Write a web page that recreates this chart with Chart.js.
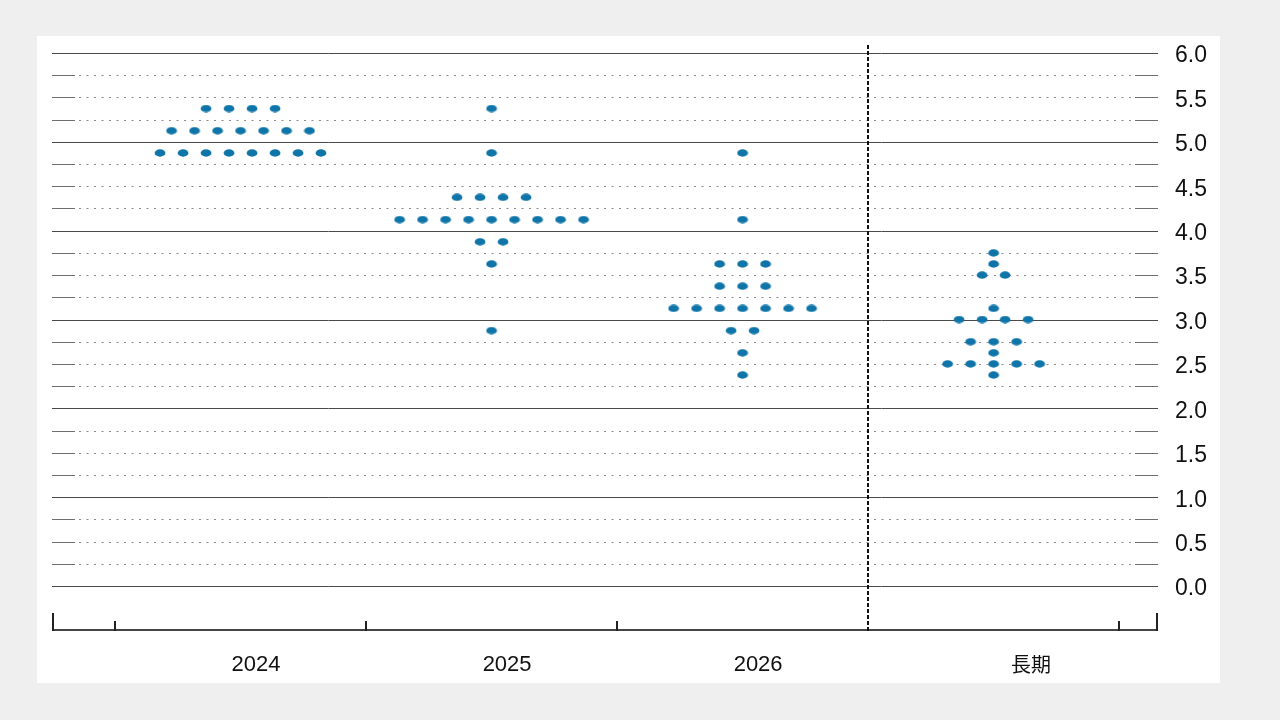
<!DOCTYPE html>
<html lang="ja">
<head>
    <meta charset="UTF-8">
    <title>Dot plot</title>
    <style>
        * { box-sizing: border-box; margin: 0; padding: 0; }
        body {
            background-color: #efefef;
            width: 1280px;
            height: 720px;
            position: relative;
            overflow: hidden;
        }
        .card {
            position: absolute;
            left: 37px;
            top: 36px;
            width: 1183px;
            height: 647px;
            background-color: #fff;
        }
        #dotChart { display: block; }
    </style>
    <script src="https://cdn.jsdelivr.net/npm/chart.js"></script>
</head>
<body>
    <div class="card">
        <canvas id="dotChart" width="1183" height="647"></canvas>
    </div>

    <script>
        // categories on the x axis
        const categories = ['2024', '2025', '2026', '長期'];

        // rate levels and number of dots at each level, per category
        const levels2024 = [5.375, 5.125, 4.875];
        const counts2024 = [4, 7, 8];
        const levels2025 = [5.375, 4.875, 4.375, 4.125, 3.875, 3.625, 2.875];
        const counts2025 = [1, 1, 4, 9, 2, 1, 1];
        const levels2026 = [4.875, 4.125, 3.625, 3.375, 3.125, 2.875, 2.625, 2.375];
        const counts2026 = [1, 1, 3, 3, 7, 2, 1, 1];
        const levelsLong = [3.75, 3.625, 3.5, 3.125, 3.0, 2.75, 2.625, 2.5, 2.375];
        const countsLong = [1, 1, 2, 1, 4, 3, 1, 5, 1];

        // y tick labels (every 0.5), grid every 0.25
        const yLabels = [0, 0.5, 1, 1.5, 2, 2.5, 3, 3.5, 4, 4.5, 5, 5.5, 6];

        const dotColor = '#0f74a8';
        const dotGap = 0.0916;           // horizontal spacing between dots, in category units
        const labelShift = [0.062, 0.062, 0.062, 0.149];

        const allLevels = [levels2024, levels2025, levels2026, levelsLong];
        const allCounts = [counts2024, counts2025, counts2026, countsLong];

        const points = [];
        allLevels.forEach((lv, i) => {
            lv.forEach((v, j) => {
                const n = allCounts[i][j];
                for (let k = 0; k < n; k++) {
                    points.push({ x: i + (k - (n - 1) / 2) * dotGap, y: v });
                }
            });
        });

        // ellipse marker
        const dotImg = document.createElement('canvas');
        dotImg.width = 12;
        dotImg.height = 8;
        const dctx = dotImg.getContext('2d');
        dctx.fillStyle = dotColor;
        dctx.beginPath();
        dctx.ellipse(6, 4, 5.4, 3.7, 0, 0, Math.PI * 2);
        dctx.fill();

        // grid, axis line, ticks and divider
        const framePlugin = {
            id: 'frame',
            beforeDatasetsDraw(chart) {
                const { ctx, chartArea: a, scales: { x, y } } = chart;
                ctx.save();
                for (let q = 0; q <= 24; q++) {
                    const v = q * 0.25;
                    const py = Math.round(y.getPixelForValue(v)) + 0.5;
                    if (q % 4 === 0) {
                        ctx.strokeStyle = '#4a4a4a';
                        ctx.lineWidth = 1;
                        ctx.setLineDash([]);
                        ctx.beginPath();
                        ctx.moveTo(a.left, py);
                        ctx.lineTo(a.right, py);
                        ctx.stroke();
                    } else {
                        ctx.strokeStyle = '#6e6e6e';
                        ctx.lineWidth = 1;
                        ctx.setLineDash([]);
                        ctx.beginPath();
                        ctx.moveTo(a.left, py);
                        ctx.lineTo(a.left + 23, py);
                        ctx.moveTo(a.right - 23, py);
                        ctx.lineTo(a.right, py);
                        ctx.stroke();
                        ctx.strokeStyle = '#8a8a8a';
                        ctx.setLineDash([2, 5.5]);
                        ctx.beginPath();
                        ctx.moveTo(a.left + 27, py);
                        ctx.lineTo(a.right - 25, py);
                        ctx.stroke();
                    }
                }
                ctx.setLineDash([]);

                // x axis line
                const by = a.bottom;
                ctx.strokeStyle = '#444';
                ctx.lineWidth = 2;
                ctx.beginPath();
                ctx.moveTo(a.left, by);
                ctx.lineTo(a.right, by);
                ctx.stroke();

                // end ticks and separators
                ctx.strokeStyle = '#222';
                ctx.beginPath();
                ctx.moveTo(a.left + 1, by + 1);
                ctx.lineTo(a.left + 1, by - 17);
                ctx.moveTo(a.right - 1, by + 1);
                ctx.lineTo(a.right - 1, by - 17);
                [-0.5, 0.5, 1.5, 3.5].forEach(v => {
                    const px = Math.round(x.getPixelForValue(v));
                    ctx.moveTo(px, by + 1);
                    ctx.lineTo(px, by - 9);
                });
                ctx.stroke();

                // dotted divider before long run
                const dx = Math.round(x.getPixelForValue(2.5));
                ctx.strokeStyle = '#111';
                ctx.lineWidth = 2;
                ctx.setLineDash([4, 2]);
                ctx.beginPath();
                ctx.moveTo(dx, a.top);
                ctx.lineTo(dx, by + 1);
                ctx.stroke();
                ctx.restore();
            }
        };

        new Chart(document.getElementById('dotChart'), {
            type: 'scatter',
            data: {
                datasets: [{
                    data: points,
                    pointStyle: dotImg,
                    pointRadius: 6,
                    pointHoverRadius: 6,
                    backgroundColor: dotColor,
                    borderColor: dotColor
                }]
            },
            options: {
                responsive: false,
                devicePixelRatio: 1,
                animation: false,
                layout: { padding: { left: 15, top: 9, right: 0, bottom: 0 } },
                plugins: { legend: { display: false }, tooltip: { enabled: false } },
                scales: {
                    x: {
                        type: 'linear',
                        min: -0.751,
                        max: 3.655,
                        grid: { display: false },
                        border: { display: false },
                        afterFit(scale) {
                            scale.height = 53;
                            scale.paddingLeft = 0;
                            scale.paddingRight = 0;
                        },
                        afterBuildTicks(scale) {
                            scale.ticks = categories.map((c, i) => ({ value: i + labelShift[i] }));
                        },
                        ticks: {
                            padding: 14,
                            color: '#111',
                            maxRotation: 0,
                            autoSkip: false,
                            font: ctx => ctx.index === 3
                                ? { family: "'Noto Sans CJK JP', sans-serif", size: 20 }
                                : { family: "'Liberation Sans', Arial, sans-serif", size: 22 },
                            callback: (v, i) => categories[i]
                        }
                    },
                    y: {
                        position: 'right',
                        min: -0.495,
                        max: 6.09,
                        grid: { display: false },
                        border: { display: false },
                        afterFit(scale) {
                            scale.width = 62;
                            scale.paddingTop = 0;
                            scale.paddingBottom = 0;
                        },
                        afterBuildTicks(scale) {
                            scale.ticks = yLabels.map(v => ({ value: v }));
                        },
                        ticks: {
                            padding: 9,
                            labelOffset: 3,
                            color: '#111',
                            font: { family: "'Liberation Sans', Arial, sans-serif", size: 23 },
                            callback: v => v.toFixed(1)
                        }
                    }
                }
            },
            plugins: [framePlugin]
        });
    </script>
</body>
</html>
